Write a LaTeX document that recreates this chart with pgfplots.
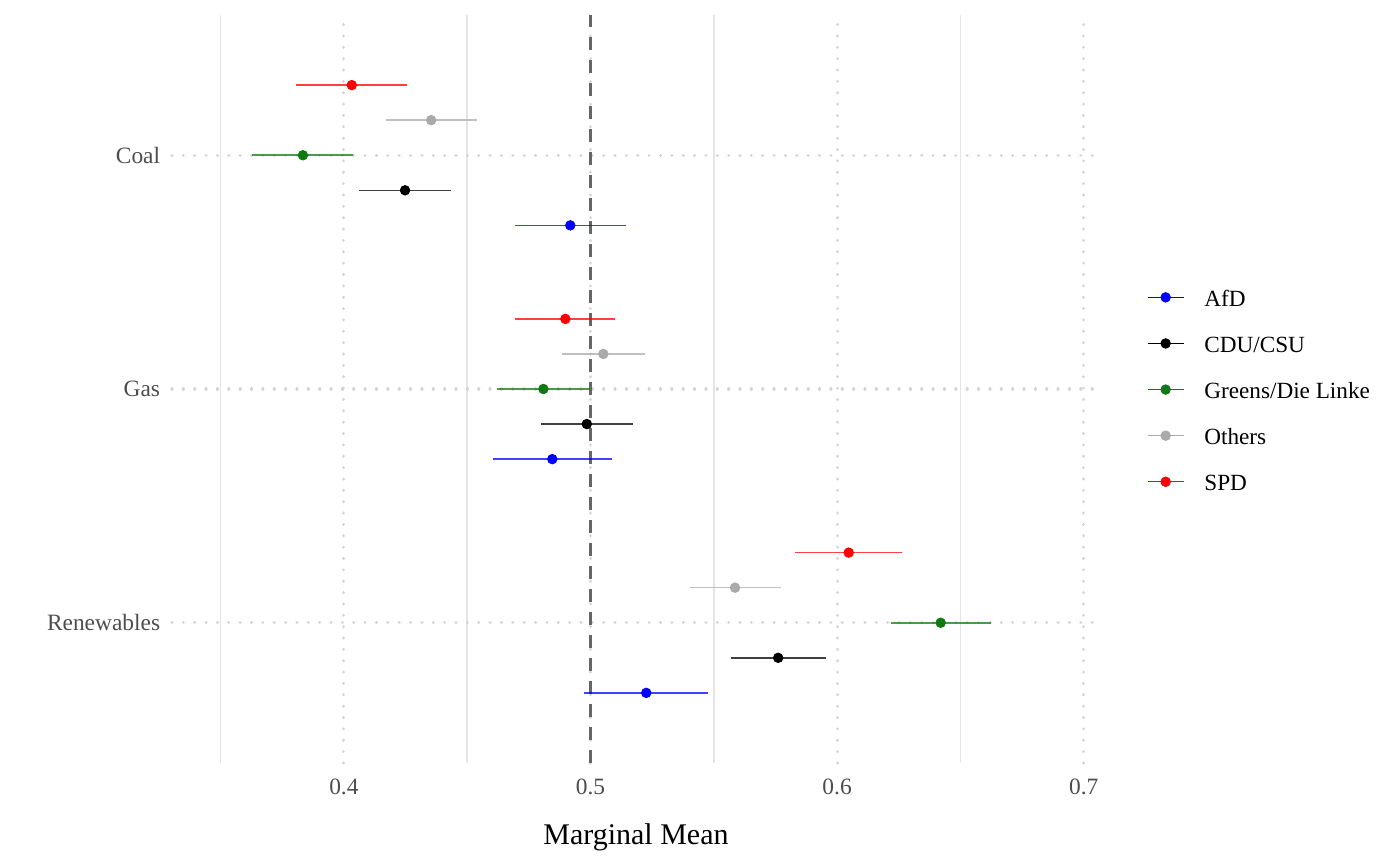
\documentclass[border=0pt]{standalone}
\usepackage{fontspec}
\setmainfont{Liberation Serif}
\usepackage{pgfplots}
\usepackage{pgfplotstable}
\pgfplotsset{compat=1.18}
\definecolor{cgreen}{RGB}{16,122,16}
\definecolor{cgray}{RGB}{170,170,170}
\definecolor{tickgray}{RGB}{77,77,77}

% y: Coal=3, Gas=2, Renewables=1 (dodged)
\pgfplotstableread{
y x lo hi
2.70 0.4918 0.4694 0.5144
1.70 0.4845 0.4606 0.5086
0.70 0.5226 0.4975 0.5476
}\afd
\pgfplotstableread{
y x lo hi
2.85 0.4248 0.4062 0.4433
1.85 0.4985 0.4800 0.5172
0.85 0.5761 0.5571 0.5954
}\cdu
\pgfplotstableread{
y x lo hi
3.00 0.3834 0.3629 0.4038
2.00 0.4809 0.4620 0.4998
1.00 0.6420 0.6218 0.6623
}\greens
\pgfplotstableread{
y x lo hi
3.15 0.4354 0.4171 0.4539
2.15 0.5052 0.4886 0.5220
1.15 0.5586 0.5402 0.5771
}\others
\pgfplotstableread{
y x lo hi
3.30 0.4032 0.3806 0.4257
2.30 0.4898 0.4694 0.5101
1.30 0.6047 0.5830 0.6264
}\spd

\pgfplotsset{
  ci/.style={forget plot, only marks, mark=*, mark size=2.4bp, color=#1,
    mark options={draw=none, fill=#1},
    error bars/x dir=both, error bars/x explicit, error bars/error mark=none,
    error bars/error bar style={line width=0.8bp, draw opacity=0.75, color=#1}},
  key/.style={legend image code/.code={
    \draw[#1, line width=0.7bp] (0bp,1.7bp) -- (18bp,1.7bp);
    \fill[#1] (9bp,1.7bp) circle (2.4bp);}}
}

\begin{document}
\begin{tikzpicture}
\path[use as bounding box] (-86bp,-51bp) rectangle (614bp,381.5bp);
\begin{axis}[
  at={(0,0)}, anchor=south west,
  scale only axis, width=464bp, height=374bp,
  xmin=0.3303, xmax=0.7066, ymin=0.4, ymax=3.6,
  clip=false,
  axis line style={draw=none},
  tick style={draw=none},
  major tick length=0pt, minor tick length=0pt,
  xtick={0.4,0.5,0.6,0.7},
  xticklabels={0.4,0.5,0.6,0.7},
  minor xtick={0.35,0.45,0.55,0.65},
  ytick={1,2,3},
  yticklabels={Renewables,Gas,Coal},
  xmajorgrids, ymajorgrids, xminorgrids,
  major grid style={black!17, line width=1.6bp, line cap=round, dash pattern=on 0.01bp off 5.67bp},
  minor grid style={black!10, line width=0.9bp},
  xticklabel style={font=\fontsize{11.7bp}{14bp}\selectfont, text=tickgray, anchor=base, inner sep=0pt, yshift=-15.5bp},
  yticklabel style={font=\fontsize{11.7bp}{14bp}\selectfont, text=tickgray, anchor=base east, inner sep=0pt, xshift=-5.75bp, yshift=-4bp},
  xlabel={Marginal Mean},
  xlabel style={font=\fontsize{15bp}{18bp}\selectfont, at={(axis description cs:0.5,0)}, anchor=base, inner sep=0pt, yshift=-40.5bp},
  legend style={at={(axis description cs:1.0506,0.4947)}, anchor=west, draw=none, fill=none,
    inner sep=0pt, outer sep=0pt,
    nodes={inner sep=0pt, text height=8bp, text depth=2.5bp, font=\fontsize{11.6bp}{14bp}\selectfont},
    row sep=12.55bp, column sep=10bp},
  legend cell align=left,
]
\addplot[color=black!60, line width=1.35bp, dash pattern=on 6.5bp off 5bp, forget plot] coordinates {(0.5,0.4) (0.5,3.6)};

\addplot[ci=blue] table[x=x, y=y, x error plus expr=\thisrow{hi}-\thisrow{x}, x error minus expr=\thisrow{x}-\thisrow{lo}] {\afd};
\addplot[ci=black] table[x=x, y=y, x error plus expr=\thisrow{hi}-\thisrow{x}, x error minus expr=\thisrow{x}-\thisrow{lo}] {\cdu};
\addplot[ci=cgreen] table[x=x, y=y, x error plus expr=\thisrow{hi}-\thisrow{x}, x error minus expr=\thisrow{x}-\thisrow{lo}] {\greens};
\addplot[ci=cgray] table[x=x, y=y, x error plus expr=\thisrow{hi}-\thisrow{x}, x error minus expr=\thisrow{x}-\thisrow{lo}] {\others};
\addplot[ci=red] table[x=x, y=y, x error plus expr=\thisrow{hi}-\thisrow{x}, x error minus expr=\thisrow{x}-\thisrow{lo}] {\spd};

\addlegendimage{key=blue}
\addlegendentry{AfD}
\addlegendimage{key=black}
\addlegendentry{CDU/CSU}
\addlegendimage{key=cgreen}
\addlegendentry{Greens/Die Linke}
\addlegendimage{key=cgray}
\addlegendentry{Others}
\addlegendimage{key=red}
\addlegendentry{SPD}
\end{axis}
\end{tikzpicture}
\end{document}
